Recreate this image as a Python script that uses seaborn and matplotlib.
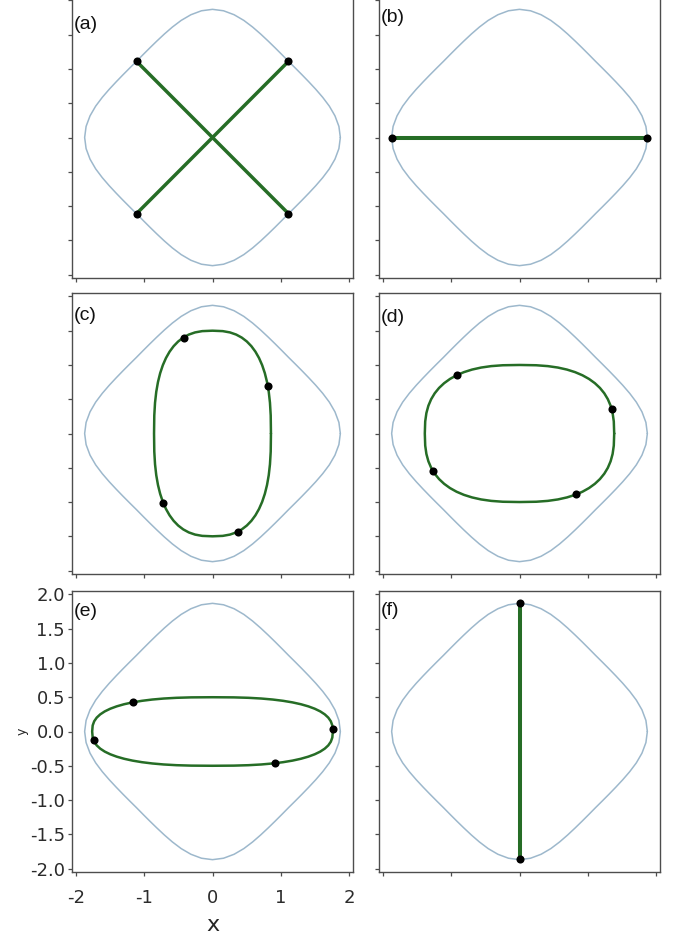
import numpy as np
import pandas as pd
import matplotlib
matplotlib.use("Agg")
import matplotlib.pyplot as plt
import seaborn as sns

# ---------------------------------------------------------------------------
# Data
# ---------------------------------------------------------------------------
# Zero-velocity boundary, first quadrant: polar angle (deg) and radius
boundary_theta_deg = [0, 5, 10, 15, 20, 25, 30, 35, 40, 45,
                      50, 55, 60, 65, 70, 75, 80, 85, 90]
boundary_radius = [1.870, 1.856, 1.819, 1.769, 1.715, 1.666, 1.626, 1.597, 1.579, 1.572,
                   1.579, 1.597, 1.626, 1.666, 1.715, 1.769, 1.819, 1.856, 1.870]

# Closed-orbit profile, first quadrant, in units of the orbit half-widths
orbit_profile_u = [1.0000, 0.9958, 0.9832, 0.9622, 0.9328, 0.8953, 0.8496, 0.7959,
                   0.7342, 0.6646, 0.5868, 0.5007, 0.4053, 0.2988, 0.1761, 0.0000]
orbit_profile_v = [0.0000, 0.1761, 0.2988, 0.4053, 0.5007, 0.5868, 0.6646, 0.7342,
                   0.7959, 0.8496, 0.8953, 0.9328, 0.9622, 0.9832, 0.9958, 1.0000]

# Half-widths (x, y) of the closed orbits
orbit_c_half = (0.855, 1.50)
orbit_d_half = (1.385, 1.00)
orbit_e_half = (1.76, 0.50)

# Straight-line orbits: end points
orbit_a1_x, orbit_a1_y = [-1.11, 1.11], [1.11, -1.11]
orbit_a2_x, orbit_a2_y = [-1.11, 1.11], [-1.11, 1.11]
orbit_b_x, orbit_b_y = [-1.87, 1.87], [0.0, 0.0]
orbit_f_x, orbit_f_y = [0.0, 0.0], [1.87, -1.86]

# Marked points on each orbit
points_a_x = [-1.11, 1.11, -1.11, 1.11]
points_a_y = [1.11, 1.11, -1.11, -1.11]
points_b_x = [-1.87, 1.87]
points_b_y = [0.0, 0.0]
points_c_x = [-0.42, 0.81, -0.72, 0.38]
points_c_y = [1.40, 0.70, -1.02, -1.43]
points_d_x = [-0.92, 1.35, -1.26, 0.83]
points_d_y = [0.85, 0.36, -0.55, -0.89]
points_e_x = [-1.17, -1.74, 1.76, 0.92]
points_e_y = [0.425, -0.124, 0.036, -0.462]
points_f_x = [0.0, 0.0]
points_f_y = [1.87, -1.86]

panel_labels = ["(a)", "(b)", "(c)", "(d)", "(e)", "(f)"]
x_ticks = [-2, -1, 0, 1, 2]
x_tick_labels = ["-2", "-1", "0", "1", "2"]
y_ticks = [-2.0, -1.5, -1.0, -0.5, 0.0, 0.5, 1.0, 1.5, 2.0]
y_tick_labels = ["-2.0", "-1.5", "-1.0", "-0.5", "0.0", "0.5", "1.0", "1.5", "2.0"]


# ---------------------------------------------------------------------------
# Helpers
# ---------------------------------------------------------------------------
def mirror_quadrant(qx, qy):
    """Close a first-quadrant arc into a full loop by reflection."""
    qx = np.asarray(qx, dtype=float)
    qy = np.asarray(qy, dtype=float)
    xs = np.concatenate([qx, -qx[::-1], -qx, qx[::-1]])
    ys = np.concatenate([qy, qy[::-1], -qy, -qy[::-1]])
    return pd.DataFrame({"x": xs, "y": ys})


def orbit_loop(half):
    a, b = half
    return mirror_quadrant(np.asarray(orbit_profile_u) * a,
                           np.asarray(orbit_profile_v) * b)


theta = np.deg2rad(boundary_theta_deg)
boundary = mirror_quadrant(np.asarray(boundary_radius) * np.cos(theta),
                           np.asarray(boundary_radius) * np.sin(theta))

BLUE = "#9db8cc"
GREEN = "#266d26"
FRAME = "#4d4d4d"

sns.set_style("ticks")
plt.rcParams["font.family"] = ["DejaVu Sans"]

W, H = 677, 941
fig = plt.figure(figsize=(W / 100, H / 100), dpi=100)

col_left = [72, 379]
row_top = [-3, 293, 591]
panel_w, panel_h = 281, 281
label_offset = [0.067, 0.043, 0.05, 0.057, 0.043, 0.04]

axes = []
for r in range(3):
    for c in range(2):
        rect = [col_left[c] / W, 1 - (row_top[r] + panel_h) / H,
                panel_w / W, panel_h / H]
        axes.append(fig.add_axes(rect))


def draw_boundary(ax):
    sns.lineplot(data=boundary, x="x", y="y", sort=False, estimator=None,
                 color=BLUE, linewidth=1.1, ax=ax)


def draw_points(ax, px, py):
    sns.scatterplot(x=px, y=py, color="black", s=34, linewidth=0,
                    zorder=5, ax=ax)


def draw_segment(ax, sx, sy, lw=2.5):
    sns.lineplot(x=sx, y=sy, sort=False, estimator=None, color=GREEN,
                 linewidth=lw, ax=ax)


# (a) crossing straight orbits
ax = axes[0]
draw_boundary(ax)
draw_segment(ax, orbit_a1_x, orbit_a1_y)
draw_segment(ax, orbit_a2_x, orbit_a2_y)
draw_points(ax, points_a_x, points_a_y)

# (b) horizontal orbit
ax = axes[1]
draw_boundary(ax)
draw_segment(ax, orbit_b_x, orbit_b_y, lw=2.9)
draw_points(ax, points_b_x, points_b_y)

# (c)-(e) closed loops
for ax, half, px, py in [(axes[2], orbit_c_half, points_c_x, points_c_y),
                         (axes[3], orbit_d_half, points_d_x, points_d_y),
                         (axes[4], orbit_e_half, points_e_x, points_e_y)]:
    draw_boundary(ax)
    sns.lineplot(data=orbit_loop(half), x="x", y="y", sort=False,
                 estimator=None, color=GREEN, linewidth=1.8, ax=ax)
    draw_points(ax, px, py)

# (f) vertical orbit
ax = axes[5]
draw_boundary(ax)
draw_segment(ax, orbit_f_x, orbit_f_y, lw=2.9)
draw_points(ax, points_f_x, points_f_y)

for i, ax in enumerate(axes):
    ax.set_xlim(-2.055, 2.055)
    ax.set_ylim(-2.05, 2.05)
    ax.set_xticks(x_ticks)
    ax.set_yticks(y_ticks)
    ax.tick_params(direction="out", length=3, width=0.9, color=FRAME,
                   labelcolor="#2b2b2b")
    for sp in ax.spines.values():
        sp.set_visible(True)
        sp.set_color(FRAME)
        sp.set_linewidth(1.0)
    ax.set_xlabel("")
    ax.set_ylabel("")
    if i == 4:
        ax.set_xticklabels(x_tick_labels, fontsize=13)
        ax.set_yticklabels(y_tick_labels, fontsize=13)
        ax.tick_params(axis="x", pad=9)
        ax.tick_params(axis="y", pad=2)
        ax.set_xlabel("x", fontsize=16, labelpad=6)
        ax.set_ylabel("y", fontsize=9, labelpad=1)
    else:
        ax.set_xticklabels([])
        ax.set_yticklabels([])
    ax.text(0.005, 1 - label_offset[i], panel_labels[i], transform=ax.transAxes,
            ha="left", va="top", fontsize=14, color="#111111",
            family=["Liberation Sans", "DejaVu Sans"])

fig.savefig("out.png", dpi=100)
